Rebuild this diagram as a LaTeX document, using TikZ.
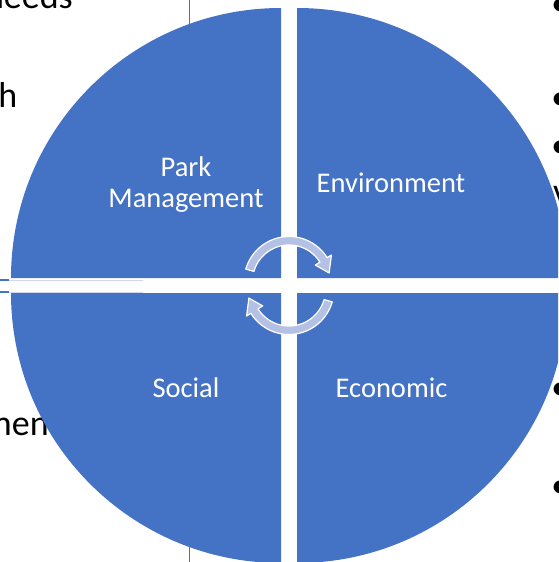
\documentclass[tikz,border=0pt]{standalone}
\usepackage{fontspec}
\setmainfont{Carlito}

\definecolor{quadblue}{RGB}{68,114,196}
\definecolor{cycfill}{RGB}{180,193,228}
\definecolor{gridfaint}{RGB}{208,216,234}

\begin{document}
\begin{tikzpicture}[
  x=1pt, y=1pt,
  quad/.style={fill=quadblue},
  lbl/.style={text=white, font=\fontsize{28.5}{31}\selectfont, align=center, inner sep=0pt},
  frag/.style={text=black, font=\fontsize{36}{40}\selectfont, inner sep=0pt},
  cyc/.style={fill=cycfill, draw=white, line width=1.2pt, line join=round},
  tabline/.style={draw=quadblue, line width=1.6pt}
]
\useasboundingbox (0,0) rectangle (558,-562);
\clip (0,0) rectangle (558,-562);

% bits of the slide behind the diagram
\node[frag, anchor=base east] (needs) at (73,-8.5) {needs};
\node[frag, anchor=base east] (withh) at (17.5,-107) {h};
\node[frag, anchor=base west] (ment) at (-17,-435) {ment};
\node[frag, anchor=base west] (b1) at (551,-15) {•};
\node[frag, anchor=base west] (b2) at (551,-109) {•};
\node[frag, anchor=base west] (b3) at (551,-157) {•};
\node[frag, anchor=base west] (vv) at (553,-203) {v};
\node[frag, anchor=base west] (b4) at (551,-399) {•};
\node[frag, anchor=base west] (b5) at (551,-497) {•};
\draw[tabline] (189.5,0) -- (189.5,-40);
\draw[tabline] (189.5,-530) -- (189.5,-562);
\draw[tabline] (0,-280) -- (9,-280);
\draw[tabline] (0,-292) -- (9,-292);
\draw[gridfaint, line width=1pt] (9,-280) -- (143,-280);
\draw[gridfaint, line width=1pt] (9,-292) -- (143,-292);

% four quadrants
\fill[quad] (281,-278) -- ++(0,270) arc[start angle=90, end angle=180, radius=270] -- cycle;
\fill[quad] (297,-278) -- ++(270,0) arc[start angle=0, end angle=90, radius=270] -- cycle;
\fill[quad] (281,-293) -- ++(-270,0) arc[start angle=180, end angle=270, radius=270] -- cycle;
\fill[quad] (297,-293) -- ++(0,-270) arc[start angle=270, end angle=360, radius=270] -- cycle;

\node[lbl, anchor=base] (mgmt) at (186,-207) {Park\\Management};
\node[lbl, anchor=base] (env) at (391,-192) {Environment};
\node[lbl, anchor=base] (soc) at (186,-397) {Social};
\node[lbl, anchor=base] (econ) at (391.5,-397) {Economic};

% cycle arrows in the middle
\begin{scope}[shift={(289,-281.5)}]
  \path[cyc] (164:45) arc[start angle=164, end angle=32, radius=45]
    -- (32:50) -- (12:41) -- (32:31) -- (32:36.5)
    arc[start angle=32, end angle=164, radius=36.5] -- cycle;
\end{scope}
\begin{scope}[shift={(289,-289.5)}, rotate=180]
  \path[cyc] (164:45) arc[start angle=164, end angle=32, radius=45]
    -- (32:50) -- (12:41) -- (32:31) -- (32:36.5)
    arc[start angle=32, end angle=164, radius=36.5] -- cycle;
\end{scope}
\end{tikzpicture}
\end{document}
